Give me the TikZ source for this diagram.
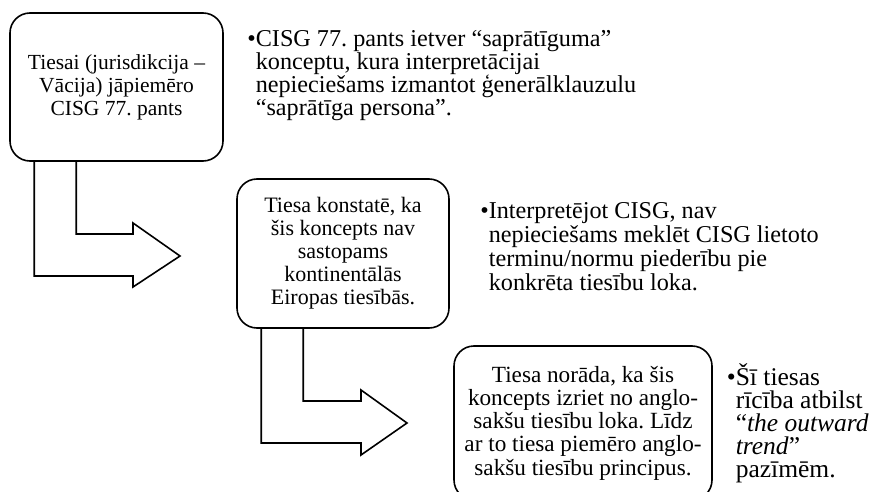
\documentclass[tikz,border=0pt]{standalone}
\usepackage{fontspec}
\setmainfont{Liberation Serif}
\frenchspacing
\begin{document}
\begin{tikzpicture}[x=1pt,y=-1pt,line width=1.6pt,font=\fontsize{21.5}{23}\selectfont]
\useasboundingbox (0,0) rectangle (870,492);
\node[draw, rounded corners=20pt, minimum width=213pt, minimum height=148pt, align=center] (1) at (116.5,87) {Tiesai (jurisdikcija –\\Vācija) jāpiemēro\\CISG 77. pants};
\node[draw, rounded corners=20pt, minimum width=212pt, minimum height=149pt, align=center, font=\fontsize{22}{23}\selectfont] (2) at (343,253.5) {Tiesa konstatē, ka\\šis koncepts nav\\sastopams\\kontinentālās\\Eiropas tiesībās.};
\node[draw, rounded corners=20pt, minimum width=258pt, minimum height=154pt, align=center, font=\fontsize{23.2}{23.3}\selectfont] (3) at (583,423) {Tiesa norāda, ka šis\\koncepts izriet no anglo-\\sakšu tiesību loka. Līdz\\ar to tiesa piemēro anglo-\\sakšu tiesību principus.};

\node[anchor=base west, inner sep=0pt, align=left, font=\fontsize{24.2}{23}\selectfont] (4) at (255,116) {\llap{•}CISG 77. pants ietver “saprātīguma”\\konceptu, kura interpretācijai\\nepieciešams izmantot ģenerālklauzulu\\“saprātīga persona”.};
\node[anchor=base west, inner sep=0pt, align=left, font=\fontsize{24.2}{23.7}\selectfont] (5) at (488,290) {\llap{•}Interpretējot CISG, nav\\nepieciešams meklēt CISG lietoto\\terminu/normu piederību pie\\konkrēta tiesību loka.};
\node[anchor=base west, inner sep=0pt, align=left, font=\fontsize{25.5}{23}\selectfont] (6) at (735,477) {\llap{•}Šī tiesas\\rīcība atbilst\\“\textit{the outward}\\\textit{trend}”\\pazīmēm.};

\path[draw,line join=miter] ([xshift=25pt]1.south west) |- (133,276) -- (133,287) -- (180,256) -- (133,223) -- (133,234) -| ([xshift=67pt]1.south west);
\path[draw,line join=miter] ([xshift=25pt]2.south west) |- (361,443) -- (361,455) -- (407,423) -- (361,390) -- (361,401) -| ([xshift=67pt]2.south west);
\end{tikzpicture}
\end{document}
